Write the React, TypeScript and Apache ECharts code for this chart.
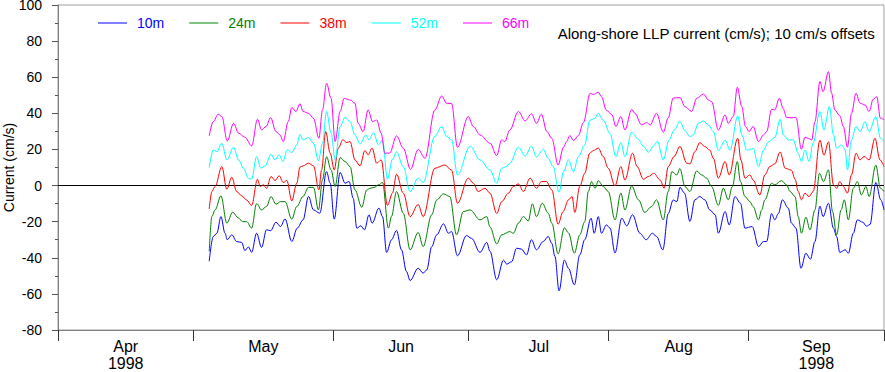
import React, { useEffect, useRef } from "react";
import * as echarts from "echarts";

// x = days since 1998-04-01 00:00, y = along-shore current (cm/s, offset by depth)
const monthTicks = [0, 30, 61, 91, 122, 153, 183];
const monthMids = [15, 45.5, 76, 106.5, 137.5, 168];
const monthLabels = ["Apr\n1998", "May", "Jun", "Jul", "Aug", "Sep\n1998"];
const seriesNames = ["10m", "24m", "38m", "52m", "66m"];
const seriesColors = ["#0000ff", "#008000", "#ff0000", "#00ffff", "#ff00ff"];

const s10m = [
  [33.5, -42], [34.4, -28.2], [35.2, -26.4], [36.1, -17.2], [37.0, -26.4], [37.5, -30], [38.5, -27.3], [39.6, -31],
  [40.7, -31.5], [41.4, -36], [42.2, -34], [42.9, -37], [44.0, -26.4], [45.1, -34.3], [46.2, -24.5], [47.1, -25],
  [48.3, -20.3], [49.3, -22.7], [50.3, -18.5], [51.8, -31], [53.0, -23.6], [54.3, -19], [55.5, -6], [56.6, -13.5],
  [58.0, -15.3], [59.5, 7.7], [60.3, 1.3], [61.2, -18.6], [62.5, 7.2], [63.6, 1.3], [64.5, 2.2], [65.4, -7],
  [66.2, -23.6], [67.1, -22.3], [67.9, -24.5], [68.9, -16.2], [69.6, -20.8], [71.1, -12.5], [71.9, -17.2], [72.8, -37],
  [73.9, -30], [75.0, -24.9], [76.1, -35.6], [77.2, -47.6], [78.0, -52.6], [79.8, -45.8], [80.9, -48.5], [81.7, -46.7],
  [82.8, -33.8], [83.9, -27.3], [85.4, -21.2], [86.5, -26.4], [87.2, -25.5], [88.5, -38.9], [90.5, -27.7], [91.6, -29.2],
  [93.5, -37], [95.0, -31.5], [95.7, -36.4], [97.2, -52.2], [98.7, -41.3], [99.4, -43.5], [100.5, -42.2], [101.6, -34.7],
  [102.7, -35.2], [103.8, -38.4], [104.9, -30], [106.0, -35.6], [107.5, -31], [108.6, -28.2], [109.4, -32], [110.1, -39.3],
  [111.0, -58.3], [112.2, -41.3], [113.1, -45.8], [114.4, -55], [115.6, -38.4], [116.7, -30], [118.1, -18.1], [118.8, -26.4],
  [119.7, -17.2], [120.4, -26.4], [121.5, -21.8], [122.3, -23.6], [123.4, -37.3], [124.9, -18.1], [126.0, -22.3], [127.3, -16.2],
  [128.9, -26.4], [130.3, -30], [131.7, -26.4], [132.6, -28.2], [134.0, -35.6], [135.2, -15.5], [136.3, -8], [137.1, -8.9],
  [137.8, -1], [138.8, -4.2], [140.0, -19.9], [141.1, -7.9], [142.2, -6.1], [143.3, -7.9], [144.4, -13.5], [145.6, -16.2],
  [146.3, -26.4], [147.8, -14.4], [148.7, -21.8], [150.0, -6.1], [151.2, -9.8], [152.2, -23.6], [153.8, -22.7], [155.2, -33.8],
  [156.3, -31], [157.0, -31], [158.1, -15.5], [158.8, -19], [159.6, -15.5], [160.5, -7.9], [161.8, -12.5], [162.5, -20.8],
  [163.5, -23.6], [164.6, -45.8], [165.7, -37.5], [166.7, -40.8], [167.7, -31], [168.8, -11.4], [169.5, -17.2], [170.7, -9.8],
  [171.8, -23.6], [172.5, -28.2], [173.2, -37], [174.4, -35.6], [175.1, -37.5], [176.2, -26.4], [177.1, -19], [178.3, -20.3],
  [179.1, -22.5], [179.9, -21.6], [181.2, 1.7], [182.3, -8], [183.0, -13.5],
];

const s24m = [
  [33.5, -36.5], [34.1, -17], [34.8, -13.5], [36.1, -5.7], [37.4, -20.8], [38.7, -14.8], [40.0, -18], [40.9, -20],
  [41.8, -20], [42.9, -23.6], [44.0, -10], [45.1, -13.5], [46.2, -11.6], [47.2, -6.1], [48.3, -10.3], [49.3, -8.9],
  [50.3, -8.9], [51.8, -18.6], [52.9, -11.6], [54.3, -6], [55.5, -1], [56.6, -1], [57.7, -13.5], [58.6, 3.1],
  [59.5, 16], [60.5, 8.7], [61.4, -0.5], [62.5, 15.5], [63.6, 13.3], [64.7, 10.5], [65.8, -2.4], [67.3, -12],
  [68.4, -2.4], [69.1, -1.5], [70.0, -1.1], [71.0, 0.4], [71.9, 1.7], [73.2, -23.6], [73.9, -17], [75.0, -3.3],
  [76.5, -15.3], [78.0, -35.6], [79.8, -26], [80.9, -33.8], [82.8, -16.2], [83.9, -8], [85.4, -4.6], [86.8, -6.1],
  [88.3, -27.3], [89.8, -14.4], [91.3, -13.5], [93.5, -19], [95.0, -17.2], [95.7, -22.9], [97.2, -32.3], [98.3, -27.3],
  [100.1, -25.5], [100.9, -26.4], [102.0, -20.8], [103.1, -17.2], [104.2, -19.6], [105.1, -10.1], [106.0, -17.2], [107.3, -9.8],
  [108.6, -15.3], [109.4, -20.8], [110.8, -37.8], [112.2, -23.4], [113.1, -26.2], [114.4, -37.5], [115.6, -27.3], [116.7, -20],
  [117.5, -3.3], [118.2, 2.2], [119.0, -1.5], [119.7, 2.7], [120.8, -0.5], [121.9, -3.3], [123.4, -19], [124.7, -4.2],
  [125.6, -13.5], [127.1, -0.2], [128.6, -7.9], [130.0, -14.9], [131.5, -11.6], [132.6, -7.9], [134.1, -19], [135.2, -3.3],
  [136.0, 7.7], [137.1, 5.9], [137.8, 9.4], [138.9, -0.5], [140.0, -3.3], [141.5, 8.1], [142.6, 5.9], [143.7, 4.1],
  [144.8, -0.5], [146.3, -11], [147.4, -1.5], [148.5, -7.9], [149.4, -0.5], [150.5, 13.3], [151.2, 2.2], [152.2, -6.1],
  [153.3, -8.9], [154.0, -11.6], [155.2, -19], [155.9, -13.5], [156.6, -7.9], [158.1, 1.3], [158.8, 0.4], [160.3, 2.7],
  [161.4, 0.4], [162.2, -3.3], [163.3, -6.1], [164.0, -17.2], [164.7, -26.4], [165.7, -17.5], [166.6, -24.5], [167.7, -13.5],
  [168.7, 6.8], [169.6, 2.2], [170.7, 8.7], [171.6, -14.4], [172.5, -27.3], [173.5, -13.5], [174.2, -7.9], [175.1, -19],
  [176.2, -1.5], [177.1, 2.2], [178.0, -5.2], [179.0, -0.5], [179.7, -6.1], [181.2, 11.3], [182.2, -1.5], [183.0, -3.3],
];

const s38m = [
  [33.5, -13], [34.1, -3.3], [34.8, -0.5], [36.3, 10.5], [37.4, -2], [38.5, 4.6], [39.6, -3.3], [40.7, -5.7],
  [41.8, -8], [42.9, -11], [44.2, 3.5], [44.8, -0.5], [45.5, 0.4], [46.2, -1.5], [47.2, 5], [48.1, 2.8],
  [49.0, 5.4], [49.9, 1.7], [50.7, 2.8], [51.8, -8.5], [52.9, 1.3], [53.6, 10.2], [54.3, 10.9], [55.5, 12.4],
  [56.6, 10.9], [57.8, -2.4], [58.4, 8.7], [59.3, 29.9], [60.3, 17.9], [61.2, 8.7], [62.1, 20.7], [63.1, 25.3],
  [64.0, 23.8], [64.7, 24.4], [65.8, 14.2], [66.9, 10.9], [68.0, 19.4], [68.7, 17], [69.6, 20.7], [70.6, 12.4],
  [71.6, 14.2], [73.0, -11], [74.1, -4.2], [75.0, 6.3], [76.5, -4.2], [78.0, -17.2], [79.8, -10.5], [80.9, -17.2],
  [83.5, 9.6], [85.7, 11.4], [87.2, 8.5], [88.5, -9.8], [90.9, 4.1], [92.0, 1.3], [93.1, -3.3], [94.6, -1.5],
  [95.7, -4.2], [97.2, -15.5], [98.3, -8.9], [99.8, -4.2], [100.9, -0.5], [102.0, 0.9], [103.1, -3.3], [104.6, 4.1],
  [106.0, -1.5], [107.1, 2.2], [108.2, 2.2], [109.4, -2.4], [110.8, -21.4], [111.9, -14.4], [113.1, -7.9], [113.9, -6.1],
  [114.5, -14.9], [115.6, -0.5], [116.7, 6.8], [117.8, 17.9], [118.6, 19.4], [119.7, 20.7], [120.8, 16.1], [121.9, 9.6],
  [123.4, -0.2], [124.7, 10.5], [125.6, 3.1], [127.3, 17.9], [128.3, 10.5], [129.7, 3.5], [130.8, 5], [132.0, 6.8],
  [133.4, 3.1], [134.3, -1.5], [135.2, 10.5], [136.5, 16.1], [137.8, 21.7], [139.3, 12.4], [140.0, 12], [141.1, 18.8],
  [142.2, 23.8], [143.3, 21.6], [144.4, 19.7], [145.2, 15.1], [146.3, 4.1], [147.8, 13.3], [148.7, 5.9], [150.6, 26.2],
  [151.3, 14.2], [152.2, 4.1], [153.3, 5.9], [154.0, 3.1], [155.5, -5.2], [156.6, 5.9], [157.7, 10.5], [158.8, 12],
  [160.0, 18.6], [161.1, 9.6], [162.5, 8.5], [163.3, 3.5], [164.0, -3.3], [164.7, -7.9], [165.5, -4.2], [166.4, -6.1],
  [167.3, -3.3], [168.8, 25.1], [169.7, 16.8], [170.7, 24.2], [171.8, 0.4], [172.5, -1.5], [173.2, 2.2], [174.0, -0.5],
  [174.9, -4.2], [175.8, 5.9], [176.8, 17.9], [177.7, 14.2], [178.6, 16.1], [179.7, 14.2], [181.0, 26.2], [182.1, 14.2],
  [183.0, 10.5],
];

const s52m = [
  [33.5, 10], [34.4, 19.7], [35.2, 18.8], [36.3, 23.4], [37.4, 14.2], [38.9, 21.2], [40.0, 14.2], [41.1, 9.6],
  [42.2, 4], [42.9, 3.5], [44.0, 16], [44.9, 9.6], [45.9, 10.9], [47.2, 17.3], [48.1, 14.2], [49.0, 17],
  [49.8, 13.3], [50.8, 19.7], [51.8, 18.3], [52.9, 22.5], [53.6, 28.3], [54.3, 25.3], [55.5, 26.6], [56.6, 23.4],
  [57.7, 13.8], [58.6, 23.4], [59.5, 41], [60.5, 29], [61.4, 14.2], [62.5, 32.7], [63.6, 37.8], [64.7, 35.4],
  [65.8, 28], [66.9, 23], [68.2, 28], [68.9, 25.3], [69.9, 29.3], [71.0, 22.5], [71.9, 25.3], [73.0, 3.5],
  [74.1, 14.6], [75.0, 18.6], [76.5, 10.5], [78.0, -3.3], [79.8, 4.1], [80.9, 1.7], [83.5, 27.3], [85.0, 32.7],
  [86.1, 27.3], [87.2, 25.3], [88.5, 5.9], [91.3, 21.8], [93.5, 14.2], [95.7, 8.7], [97.2, 1.3], [98.3, 9.6],
  [99.4, 10.5], [100.1, 12.4], [102.0, 21.2], [103.5, 16.4], [104.9, 21.8], [106.0, 15.9], [107.5, 20], [108.6, 15.1],
  [109.7, 10.5], [111.0, -3.7], [112.0, 7.7], [113.1, 14.2], [114.2, 7.7], [115.3, 16], [116.7, 22.5], [117.8, 36.2],
  [118.9, 37.1], [119.7, 39.9], [120.8, 36.2], [122.3, 28.8], [123.6, 16], [124.7, 23.8], [125.6, 16], [127.1, 29.5],
  [128.6, 25.5], [129.7, 21.8], [130.8, 18.5], [131.9, 21.8], [132.8, 24.5], [134.1, 14.2], [135.4, 25.3], [136.5, 30.8],
  [137.8, 35.4], [138.9, 30.4], [140.0, 27.1], [140.7, 28], [141.9, 34.5], [143.0, 35.8], [144.1, 33.6], [145.2, 29.9],
  [146.3, 19.4], [147.8, 25.1], [148.9, 19.6], [150.6, 38.6], [151.5, 28], [152.6, 19.6], [154.0, 20.5], [155.2, 10.5],
  [156.3, 19.6], [157.4, 24.2], [158.8, 26.6], [160.0, 36.7], [160.7, 28], [161.8, 25.3], [162.9, 25.3], [164.0, 17.9],
  [164.7, 13.3], [165.5, 19.7], [166.4, 13.3], [167.3, 23.6], [168.8, 41], [169.7, 30.8], [170.9, 43.7], [171.8, 28],
  [172.5, 20.7], [173.6, 22.5], [174.4, 19.7], [174.9, 8.7], [175.8, 25.3], [176.8, 32.7], [177.7, 29.9], [178.8, 35.4],
  [179.7, 29.9], [181.2, 38.2], [182.2, 26.2], [183.0, 24.4],
];

const s66m = [
  [33.5, 27.5], [34.4, 35.4], [35.5, 39.5], [36.3, 38.2], [37.5, 24.7], [38.9, 34.5], [40.0, 29], [41.4, 26.8],
  [42.9, 22], [44.2, 36.7], [45.1, 30.8], [46.1, 32.7], [47.1, 37.6], [48.3, 29.9], [49.2, 28], [49.9, 24.4],
  [51.0, 35.4], [51.8, 43.2], [52.7, 41], [53.6, 45.3], [54.3, 41], [55.5, 40], [56.6, 37.3], [57.8, 26.2],
  [58.6, 41.9], [59.5, 56.6], [60.5, 48.3], [61.4, 24.4], [62.5, 41], [63.4, 48.3], [64.7, 47.4], [65.8, 45.6],
  [66.5, 34.5], [67.6, 29.9], [68.7, 41.9], [69.7, 35.4], [70.6, 36.3], [71.6, 29], [72.4, 17.9], [73.5, 18],
  [75.0, 27.5], [76.5, 20.7], [78.1, 9], [79.8, 20], [81.3, 15.1], [83.5, 41.9], [85.0, 49.6], [86.1, 45.6],
  [87.2, 45.4], [88.5, 21.2], [90.9, 38.2], [92.0, 32.7], [93.5, 28], [95.7, 23.5], [97.2, 16.6], [98.3, 25.3],
  [99.0, 24.4], [100.1, 30.8], [102.0, 41], [103.5, 35.8], [104.9, 39.7], [106.0, 34.5], [107.1, 39.5], [108.3, 29.9],
  [109.4, 26.2], [110.8, 11.4], [112.0, 21.2], [112.7, 24.4], [113.4, 27.7], [114.2, 24.9], [115.3, 27.7], [116.4, 34.9],
  [117.9, 51.1], [118.6, 50.4], [119.7, 51.7], [120.4, 49.2], [121.5, 41.7], [122.7, 39.3], [123.6, 32.7], [124.7, 38.2],
  [125.6, 30.8], [127.1, 42.2], [127.8, 40], [129.3, 33.6], [130.4, 34.9], [131.2, 33.6], [132.6, 40], [134.1, 29.5],
  [135.2, 37.5], [136.3, 48.5], [137.8, 48.7], [138.9, 43.7], [140.4, 41], [141.5, 48.3], [143.0, 50.7], [144.1, 47.4],
  [144.8, 46.5], [146.3, 30.8], [147.8, 39.1], [148.5, 34.5], [149.6, 38.2], [150.5, 54.4], [151.5, 43.7], [152.3, 32.7],
  [153.1, 29.9], [154.0, 32.7], [155.2, 24.4], [156.3, 28], [157.0, 29.9], [158.1, 42.2], [158.8, 41.9], [159.8, 48.3],
  [160.7, 42.4], [161.4, 37.8], [162.5, 37.5], [163.5, 37.8], [164.7, 20.1], [165.5, 26.8], [166.2, 26.2], [167.0, 25.3],
  [167.7, 35.4], [168.8, 57.6], [169.5, 52], [170.7, 63.1], [171.4, 51.1], [172.1, 41.9], [173.2, 38.6], [174.0, 32.7],
  [174.9, 21.2], [175.8, 40], [176.8, 51.1], [177.7, 45.6], [178.8, 44.6], [179.7, 41], [180.6, 47.8], [181.4, 49.2],
  [182.2, 37.3], [183.0, 36.5],
];

const seriesData = [s10m, s24m, s38m, s52m, s66m];
const FONT = "'Liberation Sans', Arial, Helvetica, sans-serif";
const AXIS_GRAY = "#808080";

export default function App() {
  const ref = useRef<HTMLDivElement>(null);
  useEffect(() => {
    if (!ref.current) return;
    const chart = echarts.init(ref.current, undefined, { renderer: "svg" });
    chart.setOption({
      animation: false,
      textStyle: { fontFamily: FONT },
      title: {
        text: "Along-shore LLP current (cm/s); 10 cm/s offsets",
        right: 10,
        top: 26,
        padding: 0,
        textStyle: { fontSize: 15, fontWeight: "normal", color: "#000", fontFamily: FONT },
      },
      legend: {
        left: 98,
        top: 16,
        padding: 0,
        icon: "rect",
        itemWidth: 29,
        itemHeight: 1,
        itemGap: 25,
        data: seriesNames.map((n, i) => ({
          name: n,
          textStyle: { color: seriesColors[i], fontSize: 14, fontFamily: FONT, padding: [0, 0, 0, 5] },
        })),
      },
      grid: {
        left: 58,
        right: 1,
        top: 5,
        bottom: 42,
        show: true,
        borderColor: "#a0a0a0",
        borderWidth: 1,
        containLabel: false,
        outerBoundsMode: "none",
      },
      xAxis: {
        type: "value",
        min: 0,
        max: 183,
        splitLine: { show: false },
        axisLine: { show: true, onZero: false, lineStyle: { color: AXIS_GRAY, width: 1 } },
        axisTick: {
          show: true,
          customValues: monthTicks,
          length: 11,
          lineStyle: { color: "#333", width: 1 },
        },
        axisLabel: {
          customValues: monthMids,
          margin: 8,
          fontSize: 16,
          lineHeight: 17,
          color: "#000",
          fontFamily: FONT,
          formatter: (v: number) => {
            const idx = monthMids.findIndex((m) => Math.abs(m - v) < 0.01);
            return idx >= 0 ? monthLabels[idx] : "";
          },
        },
      },
      yAxis: {
        type: "value",
        min: -80,
        max: 100,
        interval: 20,
        name: "Current (cm/s)",
        nameLocation: "middle",
        nameGap: 42,
        nameMoveOverlap: false,
        nameTextStyle: { fontSize: 14, color: "#000", fontFamily: FONT },
        splitLine: { show: false },
        axisLine: { show: true, onZero: false, lineStyle: { color: AXIS_GRAY, width: 1 } },
        axisTick: { show: true, length: 6, lineStyle: { color: "#555" } },
        minorTick: { show: true, splitNumber: 2, length: 3, lineStyle: { color: "#555" } },
        axisLabel: { fontSize: 14, color: "#000", margin: 16, fontFamily: FONT },
      },
      series: seriesData.map((d, i) => ({
        name: seriesNames[i],
        type: "line",
        data: d,
        symbol: "none",
        smooth: 0.35,
        smoothMonotone: "x",
        lineStyle: { color: seriesColors[i], width: 1 },
        itemStyle: { color: seriesColors[i] },
        z: 3,
        markLine:
          i === 0
            ? {
                silent: true,
                symbol: ["none", "none"],
                label: { show: false },
                lineStyle: { color: "#000", width: 1.2, type: "solid" },
                data: [{ yAxis: 0 }],
                z: 1,
              }
            : undefined,
      })),
    });
    return () => chart.dispose();
  }, []);
  return (
    <div
      ref={ref}
      style={{ position: "absolute", left: 0, top: 0, width: 885, height: 372 }}
    />
  );
}
